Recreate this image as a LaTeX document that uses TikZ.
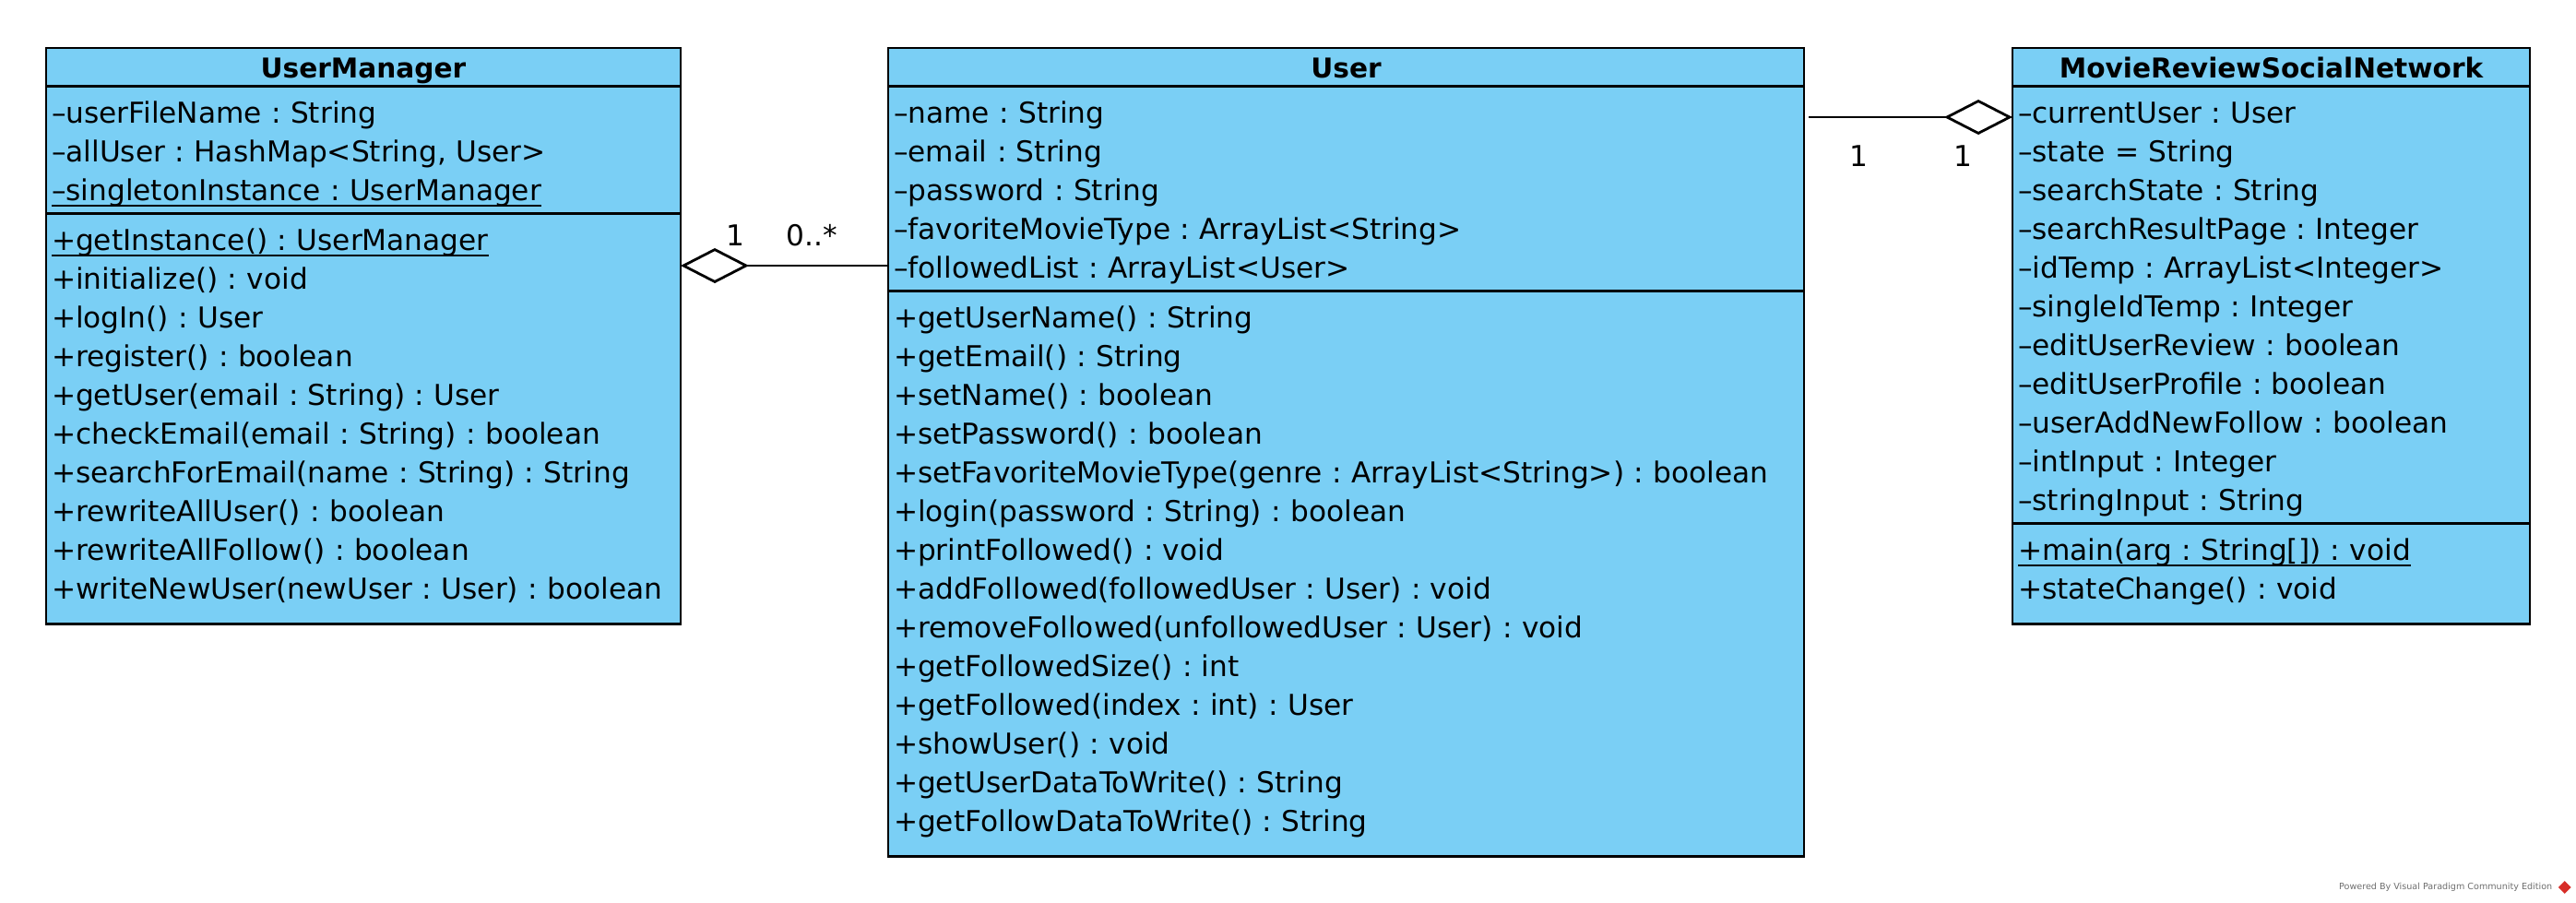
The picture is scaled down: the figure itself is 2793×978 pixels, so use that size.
\documentclass[tikz,border=0pt]{standalone}
\usepackage{fontspec}
\setmainfont{DejaVu Sans}
\usetikzlibrary{positioning,arrows.meta,shapes.geometric}
\frenchspacing

\definecolor{umlblue}{RGB}{122,207,245}
\definecolor{vpgray}{RGB}{110,110,110}
\definecolor{vpred}{RGB}{215,45,40}

% strut of one member line, and of the last line of an operation box
\newcommand{\cl}{\rule[-2pt]{0pt}{10.5pt}}
\newcommand{\cle}{\rule[-5.25pt]{0pt}{13.75pt}}
\newcommand{\stat}[1]{\underline{\smash{#1}}}

\tikzset{
  cls/.style={draw, fill=umlblue, line width=0.7pt, outer sep=0pt, inner ysep=0pt},
  clstitle/.style={cls, anchor=north west, font=\fontsize{7.4pt}{10.5pt}\selectfont\bfseries, text height=8pt, text depth=2.4pt},
  comp/.style={cls, align=left, inner ysep=1.5pt, inner xsep=1.5pt},
  agg/.style={{Diamond[open,length=18.5pt,width=9.5pt]}-, line width=0.7pt},
  mult/.style={inner sep=0pt}
}

\begin{document}
\begin{tikzpicture}[x=0.25pt, y=-0.25pt, font=\fontsize{7.8pt}{10.5pt}\selectfont]

\useasboundingbox (0,0) rectangle (2793,978);

% UserManager
\node[clstitle, minimum width=172pt] (umT) at (50,52) {UserManager};
\node[comp, text width=169pt, below=0pt of umT] (umA) {%
\cl –userFileName : String\\
\cl –allUser : HashMap<String, User>\\
\cl \stat{–singletonInstance : UserManager}};
\node[comp, text width=169pt, below=0pt of umA] (umO) {%
\cl \stat{+getInstance() : UserManager}\\
\cl +initialize() : void\\
\cl +logIn() : User\\
\cl +register() : boolean\\
\cl +getUser(email : String) : User\\
\cl +checkEmail(email : String) : boolean\\
\cl +searchForEmail(name : String) : String\\
\cl +rewriteAllUser() : boolean\\
\cl +rewriteAllFollow() : boolean\\
\cle +writeNewUser(newUser : User) : boolean};

% User
\node[clstitle, minimum width=248.25pt] (userT) at (963,52) {User};
\node[comp, text width=245.25pt, below=0pt of userT] (userA) {%
\cl –name : String\\
\cl –email : String\\
\cl –password : String\\
\cl –favoriteMovieType : ArrayList<String>\\
\cl –followedList : ArrayList<User>};
\node[comp, text width=245.25pt, below=0pt of userA] (userO) {%
\cl +getUserName() : String\\
\cl +getEmail() : String\\
\cl +setName() : boolean\\
\cl +setPassword() : boolean\\
\cl +setFavoriteMovieType(genre : ArrayList<String>) : boolean\\
\cl +login(password : String) : boolean\\
\cl +printFollowed() : void\\
\cl +addFollowed(followedUser : User) : void\\
\cl +removeFollowed(unfollowedUser : User) : void\\
\cl +getFollowedSize() : int\\
\cl +getFollowed(index : int) : User\\
\cl +showUser() : void\\
\cl +getUserDataToWrite() : String\\
\cle +getFollowDataToWrite() : String};

% MovieReviewSocialNetwork
\node[clstitle, minimum width=140.25pt] (mrT) at (2182,52) {MovieReviewSocialNetwork};
\node[comp, text width=137.25pt, below=0pt of mrT] (mrA) {%
\cl –currentUser : User\\
\cl –state = String\\
\cl –searchState : String\\
\cl –searchResultPage : Integer\\
\cl –idTemp : ArrayList<Integer>\\
\cl –singleIdTemp : Integer\\
\cl –editUserReview : boolean\\
\cl –editUserProfile : boolean\\
\cl –userAddNewFollow : boolean\\
\cl –intInput : Integer\\
\cl –stringInput : String};
\node[comp, text width=137.25pt, below=0pt of mrA] (mrO) {%
\cl \stat{+main(arg : String[]) : void}\\
\cle +stateChange() : void};

% aggregations
\coordinate (l1) at (0,288);
\coordinate (l2) at (0,127);
\draw[agg] (umO.east |- l1) -- (userA.west |- l1);
\draw[agg, shorten >=1.2pt] (mrA.west |- l2) -- (userA.east |- l2);

\node[mult] (m1) at (797,255) {1};
\node[mult] (m2) at (880,255) {0..*};
\node[mult] (m3) at (2015,169) {1};
\node[mult] (m4) at (2128,169) {1};

\node[font=\fontsize{2.4pt}{3pt}\selectfont, text=vpgray, anchor=east, inner sep=0pt] (vp) at (2768,962) {Powered By Visual Paradigm Community Edition};
\node[diamond, fill=vpred, inner sep=0pt, minimum size=3.6pt, right=1.2pt of vp] (vplogo) {};
\end{tikzpicture}
\end{document}
